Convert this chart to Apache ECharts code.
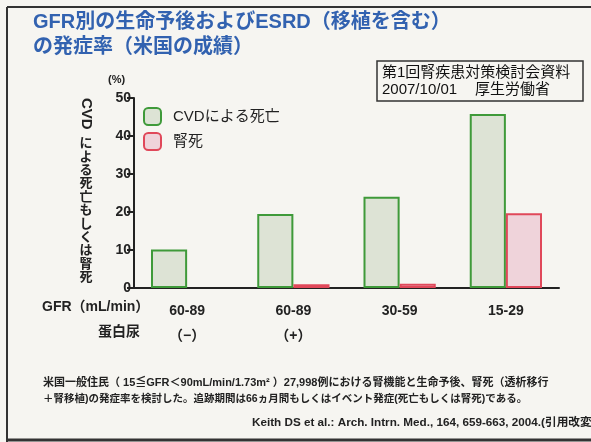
<!DOCTYPE html>
<html>
<head>
<meta charset="utf-8">
<script src="https://cdn.jsdelivr.net/npm/echarts@6/dist/echarts.min.js"></script>
<style>
html, body { margin: 0; padding: 0; background: #f6f5f1; }
#container { width: 591px; height: 442px; }
</style>
</head>
<body>
<div id="container"></div>
<script>
// GFR区分
var categories = ['60-89\n（−）', '60-89\n（+）', '30-59', '15-29'];
var cvdDeath = [10.1, 19.5, 24.0, 45.8];
var renalDeath = [null, 1.0, 1.1, 19.7];
var yTicks = [0, 10, 20, 30, 40, 50];

var FONT = '"Liberation Sans", "Noto Sans CJK JP", sans-serif';

function initBar() {
	var dom = document.getElementById("container");
	var myChart = echarts.init(dom);
	var option = {
		backgroundColor: '#f6f5f1',
		animation: false,
		textStyle: { fontFamily: FONT },
		grid: {
			left: 134,
			right: 32,
			top: 98,
			bottom: 154
		},
		legend: {
			orient: 'vertical',
			left: 143,
			top: 107,
			padding: 0,
			itemWidth: 17,
			itemHeight: 17,
			itemGap: 6,
			textStyle: { color: '#222', fontSize: 15, fontFamily: FONT, padding: [0, 0, 0, 7] },
			data: ['CVDによる死亡', '腎死']
		},
		xAxis: {
			type: 'category',
			data: categories,
			axisTick: { show: false },
			axisLine: { lineStyle: { color: '#222', width: 2 } },
			axisLabel: {
				color: '#222',
				fontSize: 14,
				fontWeight: 'bold',
				lineHeight: 25,
				margin: 11
			}
		},
		yAxis: {
			type: 'value',
			min: yTicks[0],
			max: yTicks[yTicks.length - 1],
			interval: 10,
			splitLine: { show: false },
			axisLine: { show: true, lineStyle: { color: '#222', width: 2 } },
			axisTick: { show: true, length: 7, lineStyle: { color: '#222', width: 2 } },
			axisLabel: { color: '#222', fontSize: 14, fontWeight: 'bold', margin: 3 }
		},
		series: [{
			name: 'CVDによる死亡',
			type: 'bar',
			data: cvdDeath,
			barGap: '0%',
			barCategoryGap: '32%',
			itemStyle: { color: '#dde3d5', borderColor: '#3f9a3a', borderWidth: 2 }
		}, {
			name: '腎死',
			type: 'bar',
			data: renalDeath,
			itemStyle: { color: '#efd3da', borderColor: '#e0485a', borderWidth: 2 }
		}],
		graphic: [
			// 枠線
			{ type: 'line', shape: { x1: 7, y1: 7, x2: 591, y2: 7 }, style: { stroke: '#333', lineWidth: 2 } },
			{ type: 'line', shape: { x1: 7, y1: 7, x2: 7, y2: 442 }, style: { stroke: '#333', lineWidth: 2 } },
			{ type: 'line', shape: { x1: 7, y1: 440, x2: 591, y2: 440 }, style: { stroke: '#333', lineWidth: 3 } },
			// タイトル
			{ type: 'text', left: 33, top: 12, style: { text: 'GFR別の生命予後およびESRD（移植を含む）', fill: '#3262b0', font: 'bold 20px ' + FONT } },
			{ type: 'text', left: 33, top: 37, style: { text: 'の発症率（米国の成績）', fill: '#3262b0', font: 'bold 20px ' + FONT } },
			// 資料ボックス
			{ type: 'rect', shape: { x: 377, y: 61, width: 206, height: 40 }, style: { fill: 'none', stroke: '#333', lineWidth: 1.5 } },
			{ type: 'text', x: 382, y: 73, style: { text: '第1回腎疾患対策検討会資料', fill: '#111', font: '15px ' + FONT, verticalAlign: 'middle' } },
			{ type: 'text', x: 382, y: 90, style: { text: '2007/10/01', fill: '#111', font: '15px ' + FONT, verticalAlign: 'middle' } },
			{ type: 'text', x: 475, y: 90, style: { text: '厚生労働省', fill: '#111', font: '15px ' + FONT, verticalAlign: 'middle' } },
			// 単位
			{ type: 'text', x: 108, y: 80, style: { text: '(%)', fill: '#222', font: 'bold 11px ' + FONT, verticalAlign: 'middle' } },
			// 縦軸名
			{ type: 'text', x: 86, y: 98, rotation: -Math.PI / 2, style: { text: 'CVD', fill: '#222', font: 'bold 15px ' + FONT, align: 'left', verticalAlign: 'middle' } },
			{ type: 'text', x: 86, y: 137, style: { text: 'に\nよ\nる\n死\n亡\nも\nし\nく\nは\n腎\n死', fill: '#222', font: 'bold 13px ' + FONT, lineHeight: 13.4, align: 'center', verticalAlign: 'top' } },
			// 横軸見出し
			{ type: 'text', x: 42, y: 307, style: { text: 'GFR（mL/min）', fill: '#222', font: 'bold 14px ' + FONT, verticalAlign: 'middle' } },
			{ type: 'text', x: 140, y: 332, style: { text: '蛋白尿', fill: '#222', font: 'bold 14px ' + FONT, align: 'right', verticalAlign: 'middle' } },
			// 注釈
			{ type: 'text', x: 43, y: 383, style: { text: '米国一般住民（ 15≦GFR＜90mL/min/1.73m² ）27,998例における腎機能と生命予後、腎死（透析移行', fill: '#222', font: 'bold 11px ' + FONT, verticalAlign: 'middle' } },
			{ type: 'text', x: 43, y: 399, style: { text: '＋腎移植)の発症率を検討した。追跡期間は66ヵ月間もしくはイベント発症(死亡もしくは腎死)である。', fill: '#222', font: 'bold 10.5px ' + FONT, verticalAlign: 'middle' } },
			{ type: 'text', x: 252, y: 423, style: { text: 'Keith DS et al.: Arch. Intrn. Med., 164, 659-663, 2004.(引用改変)', fill: '#222', font: 'bold 11.7px ' + FONT, verticalAlign: 'middle' } }
		]
	};
	if (option && typeof option === "object") {
		myChart.setOption(option, true);
	}
}

initBar();
</script>
</body>
</html>
